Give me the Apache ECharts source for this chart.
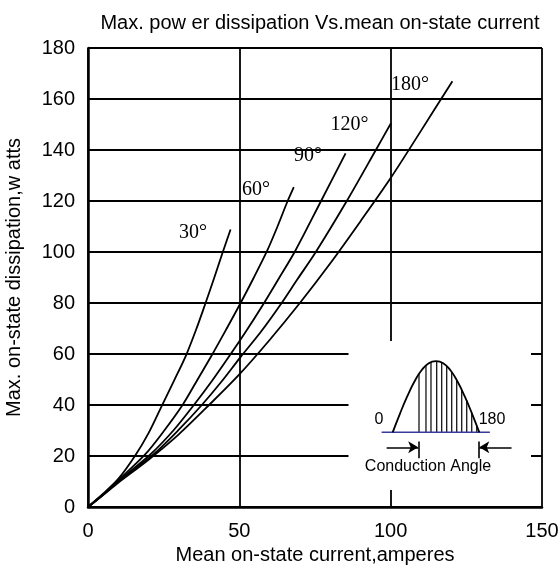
<!DOCTYPE html>
<html>
<head>
<meta charset="utf-8">
<script src="https://cdn.jsdelivr.net/npm/echarts@6/dist/echarts.min.js"></script>
<style>
  html, body { margin: 0; padding: 0; background: #fff; }
  #chart { width: 560px; height: 571px; }
</style>
</head>
<body>
<div id="chart"></div>
<script>
// curves: [mean current A, power W]
const curve30 = [[0,0],[5,5.2],[10,11],[15.5,20],[20,29],[24.3,39.5],[28.4,49.5],[32.4,59.5],[35.7,69.5],[38.7,79.5],[41.6,89.5],[44.4,99.5],[47.1,108.8]];
const curve60 = [[0,0],[5,5],[10,10.5],[18.8,20.5],[25.2,30],[31.4,40.3],[36.2,50],[40.9,59.5],[45.6,69.5],[50.2,79.5],[54.8,90],[59.2,100.5],[62.6,110],[65.8,119.5],[68,125.4]];
const curve90 = [[0,0],[5,4.9],[10,10.2],[20.5,20.5],[28.2,30],[35.3,40.5],[41,49.5],[46.3,58.5],[52,68.5],[57.4,78.5],[63,89.5],[68.5,100.5],[77,120],[85.1,138.7]];
const curve120 = [[0,0],[5,4.8],[10,10],[21.5,20.5],[30,30.3],[37.6,40],[44,49],[50.2,58.5],[57,68.5],[63.4,79],[69.3,89.5],[75,99.5],[85.4,119.8],[95.1,140],[100.1,150.5]];
const curve180 = [[0,0],[5,4.7],[10,9.5],[20,18.5],[30,28.5],[40,40],[50,52],[60,65.5],[70,80],[80,95.5],[90,112],[100,129],[110,147.5],[120.4,167]];

const curveNames = ['30°', '60°', '90°', '120°', '180°'];
const curves = [curve30, curve60, curve90, curve120, curve180];
// where each angle label sits (data coords)
const labelAt = [[34.7,107.5],[55.5,124.3],[72.7,137.8],[86.4,149.8],[106.4,165.5]];

const xTicks = [0, 50, 100, 150];
const yTicks = [0, 20, 40, 60, 80, 100, 120, 140, 160, 180];

// inset sketch: half sine wave, phase in degrees
const waveX = [0,15,30,45,60,75,90,105,120,135,150,165,180];
const waveY = [0,0.26,0.5,0.71,0.87,0.97,1,0.97,0.87,0.71,0.5,0.26,0];
const hatchX = [54.7,69.2,79.6,91.5,101.9,112.3,122.7,133.1,143.5,153.9,164.3,174.7];
const hatchY = [0.82,0.94,0.98,1,0.98,0.93,0.84,0.73,0.59,0.45,0.28,0.09];

const sans = '"Liberation Sans Narrow", "Liberation Sans", Arial, sans-serif';
const serif = '"Liberation Serif", "Times New Roman", serif';

const chart = echarts.init(document.getElementById('chart'), null, { renderer: 'canvas' });

let series = curves.map((c, i) => ({
    name: curveNames[i],
    type: 'line',
    xAxisIndex: 0,
    yAxisIndex: 0,
    data: c,
    smooth: 0.3,
    symbol: 'none',
    lineStyle: { color: '#000', width: 1.8 },
    z: 5,
    markPoint: {
        symbol: 'circle',
        symbolSize: 0,
        label: {
            show: true,
            position: 'inside',
            formatter: curveNames[i],
            fontFamily: serif,
            fontSize: 20,
            color: '#000'
        },
        data: [{ coord: labelAt[i] }]
    }
}));

// inset
series.push({
    type: 'line',
    xAxisIndex: 1,
    yAxisIndex: 1,
    data: [[-23, 0], [202, 0]],
    symbol: 'none',
    lineStyle: { color: '#3a3a9c', width: 1.5 },
    z: 20,
    silent: true
});
series.push({
    type: 'bar',
    xAxisIndex: 1,
    yAxisIndex: 1,
    data: hatchX.map((x, i) => [x, hatchY[i]]),
    barWidth: 1.2,
    itemStyle: { color: '#000' },
    z: 20,
    silent: true
});
series.push({
    type: 'line',
    xAxisIndex: 1,
    yAxisIndex: 1,
    data: waveX.map((x, i) => [x, waveY[i]]),
    smooth: true,
    symbol: 'none',
    lineStyle: { color: '#000', width: 1.8 },
    z: 21,
    silent: true,
    markLine: {
        silent: true,
        z: 25,
        symbol: ['none', 'arrow'],
        symbolSize: [9, 10],
        lineStyle: { color: '#000', width: 1.6, type: 'solid' },
        label: { show: false },
        data: [
            [{ coord: [-12.5, -0.21] }, { coord: [53, -0.21] }],
            [{ coord: [247, -0.21] }, { coord: [180, -0.21] }],
            [{ coord: [54.7, -0.13], symbol: 'none' }, { coord: [54.7, -0.365], symbol: 'none' }],
            [{ coord: [178, -0.13], symbol: 'none' }, { coord: [178, -0.365], symbol: 'none' }]
        ]
    }
});

const option = {
    backgroundColor: '#fff',
    animation: false,
    title: {
        text: 'Max. pow er dissipation Vs.mean on-state current',
        left: 315,
        textAlign: 'center',
        top: 8,
        textStyle: { fontFamily: sans, fontSize: 20, fontWeight: 'normal', color: '#000' }
    },
    grid: [
        { left: 88, right: 18, top: 48, bottom: 64, outerBoundsMode: 'none', containLabel: false },
        { left: 363.8, top: 353.9, width: 154, height: 114.1, outerBoundsMode: 'none', containLabel: false }
    ],
    xAxis: [{
        type: 'value',
        min: 0, max: 150, interval: 50,
        name: 'Mean on-state current,amperes',
        nameLocation: 'middle',
        nameGap: 36,
        nameTextStyle: { fontFamily: sans, fontSize: 20, color: '#000' },
        axisLine: { show: true, lineStyle: { color: '#000', width: 2.5 } },
        axisTick: { show: false },
        axisLabel: { fontFamily: sans, fontSize: 20, color: '#000', margin: 14,
            formatter: v => xTicks.includes(v) ? String(v) : '' },
        splitLine: { show: true, lineStyle: { color: '#000', width: 1.8 } }
    }, {
        type: 'value', gridIndex: 1, min: -60, max: 260, show: false
    }],
    yAxis: [{
        type: 'value',
        min: 0, max: 180, interval: 20,
        name: 'Max. on-state dissipation,w atts',
        nameLocation: 'middle',
        nameGap: 64,
        nameTextStyle: { fontFamily: sans, fontSize: 20, color: '#000' },
        axisLine: { show: true, lineStyle: { color: '#000', width: 2.5 } },
        axisTick: { show: false },
        axisLabel: { fontFamily: sans, fontSize: 20, color: '#000', margin: 13,
            formatter: v => yTicks.includes(v) ? String(v) : '' },
        splitLine: { show: true, lineStyle: { color: '#000', width: 1.8 } }
    }, {
        type: 'value', gridIndex: 1, min: -0.5, max: 1.1, show: false
    }],
    graphic: [
        {
            type: 'rect',
            shape: { x: 348.5, y: 341, width: 182.5, height: 149 },
            style: { fill: '#fff' },
            z: 10,
            silent: true
        },
        {
            type: 'text', x: 379, y: 420, z: 22,
            style: { text: '0', fontFamily: '"Liberation Sans", Arial, sans-serif', fontSize: 16,
                fill: '#000', align: 'center', verticalAlign: 'middle' }
        },
        {
            type: 'text', x: 492, y: 420, z: 22,
            style: { text: '180', fontFamily: '"Liberation Sans", Arial, sans-serif', fontSize: 16,
                fill: '#000', align: 'center', verticalAlign: 'middle' }
        },
        {
            type: 'text', x: 428, y: 467, z: 22,
            style: { text: 'Conduction Angle', fontFamily: '"Liberation Sans", Arial, sans-serif', fontSize: 16,
                fill: '#000', align: 'center', verticalAlign: 'middle' }
        }
    ],
    series: series
};

chart.setOption(option);
window.addEventListener('resize', () => chart.resize());
</script>
</body>
</html>
